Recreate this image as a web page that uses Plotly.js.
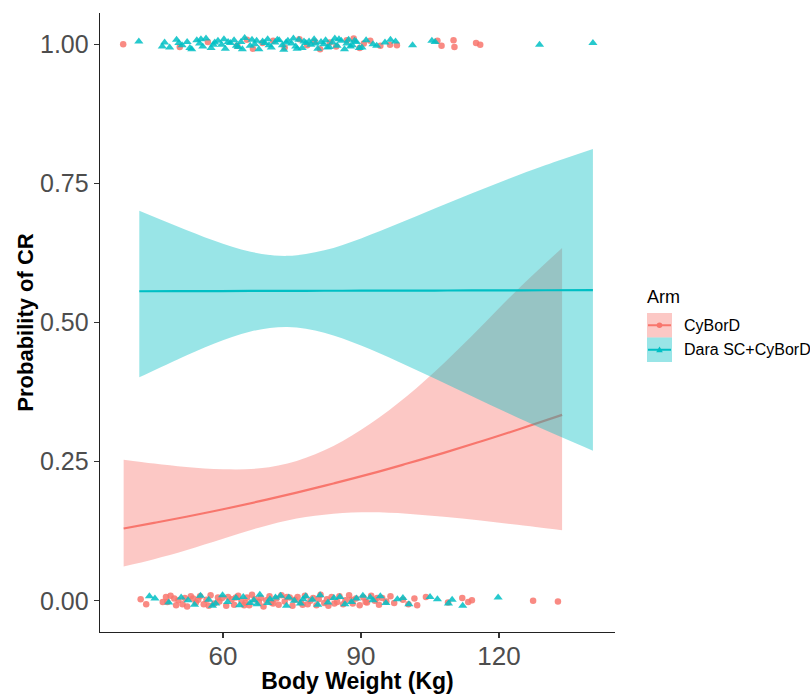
<!DOCTYPE html>
<html>
<head>
<meta charset="utf-8">
<script src="https://cdn.plot.ly/plotly-3.0.1.min.js"></script>
<style>
  html, body { margin: 0; padding: 0; background: #fff; }
  #chart { width: 810px; height: 694px; }
</style>
</head>
<body>
<div id="chart"></div>
<script>
// Logistic fits of complete response (CR) vs body weight, by treatment arm
const armNames = ['CyBorD', 'Dara SC+CyBorD'];

// Fitted probability and 95% band, CyBorD arm
const cyWeight = [38.4, 45, 52, 60, 68, 76, 84, 92, 100, 108, 116, 124, 133.7];
const cyFit    = [0.130, 0.140, 0.151, 0.1645, 0.179, 0.1943, 0.2108, 0.228, 0.2466, 0.2658, 0.2862, 0.3073, 0.334];
const cyUpper  = [0.2535, 0.2466, 0.2405, 0.2363, 0.2381, 0.2513, 0.278, 0.318, 0.368, 0.427, 0.492, 0.559, 0.634];
const cyLower  = [0.0618, 0.0748, 0.0908, 0.1114, 0.1318, 0.1478, 0.1565, 0.159, 0.1565, 0.151, 0.1445, 0.1365, 0.1268];

// Fitted probability and 95% band, Dara SC+CyBorD arm
const daWeight = [41.8, 50, 58, 66, 74, 82, 90, 98, 106, 114, 122, 130, 140.4];
const daFit    = [0.5561, 0.5563, 0.5565, 0.5567, 0.5568, 0.5570, 0.5571, 0.5573, 0.5574, 0.5576, 0.5577, 0.5579, 0.5581];
const daUpper  = [0.7006, 0.6728, 0.6472, 0.6271, 0.6197, 0.6296, 0.6511, 0.6773, 0.7047, 0.7319, 0.7579, 0.7825, 0.8119];
const daLower  = [0.4015, 0.4333, 0.4618, 0.4838, 0.4920, 0.4817, 0.4588, 0.4301, 0.3993, 0.3679, 0.3369, 0.3069, 0.2698];

// Patient-level outcomes (weight in kg), with vertical jitter in thousandths
const cyCRWeight = [38.3, 50.6, 56.7, 63.1, 65.2, 66.5, 68.6, 70.9, 73.4, 76.6, 78.3, 79.9, 81.1, 83.2, 84.6, 86.9, 88.4, 89.7, 90.6, 92.0, 94.2, 96.3, 97.8, 106.6, 107.5, 110.1, 110.3, 115.0, 115.9];
const cyCRJitter = [0, -5, 4, -3, 8, -8, 2, 6, -6, 9, -2, 5, -9, 3, -4, 7, 10, -7, 1, 6, -3, -1, -2, 6, -3, 7, -5, 2, -1];

const daCRWeight = [41.7, 46.8, 47.3, 48.4, 49.9, 50.4, 51.1, 52.2, 52.8, 53.2, 54.3, 54.9, 55.2, 55.6, 56.3, 57.4, 57.9, 58.2, 58.9, 59.7, 60.2, 60.5, 61.1, 61.6, 62.4, 62.9, 63.3, 63.9, 64.2, 64.7, 65.9, 66.3, 66.9, 67.3, 67.8, 68.6, 69.1, 69.7, 70.0, 70.5, 71.3, 71.8, 72.2, 72.9, 73.2, 73.7, 74.1, 74.9, 75.3, 75.8, 76.1, 76.5, 77.2, 77.6, 78.0, 78.7, 79.1, 79.8, 80.1, 80.6, 81.3, 81.9, 82.3, 82.7, 83.1, 83.8, 84.3, 84.8, 85.2, 85.7, 86.4, 86.9, 87.3, 87.7, 88.1, 88.6, 89.0, 89.6, 90.2, 91.1, 92.6, 93.4, 95.2, 96.4, 97.5, 101.2, 105.4, 106.1, 128.8, 140.4];
const daCRJitter = [5, -4, 3, -6, 8, 2, -2, 4, -7, -9, 7, 1, 9, -4, 10, -7, -1, 3, 6, -1, 9, -8, 4, 2, 7, -3, -5, 4, -9, 11, -3, 8, 0, 6, -9, 5, 2, 9, -2, -6, 3, 8, 7, -2, -10, 3, 6, 1, 10, -4, -8, 8, -7, 5, 2, 5, -1, 9, 1, -8, 4, 0, 7, -6, -5, 3, 10, -3, 9, 6, -9, 1, 8, -4, -2, 6, 4, -7, -6, 7, 0, -3, 3, 8, 5, -2, 6, 4, -1, 2];

const cyNoCRWeight = [42.1, 43.3, 46.9, 47.6, 47.9, 48.6, 49.4, 49.8, 50.3, 51.2, 51.7, 52.2, 53.0, 53.5, 54.1, 54.6, 55.0, 55.8, 56.4, 56.9, 57.3, 58.1, 58.9, 59.2, 59.8, 60.7, 61.1, 61.9, 62.4, 62.8, 63.3, 64.0, 64.6, 64.9, 65.2, 65.7, 66.3, 66.9, 67.8, 68.2, 68.8, 69.4, 70.1, 70.5, 70.9, 71.6, 72.1, 72.7, 73.4, 73.9, 74.5, 75.1, 75.6, 76.2, 76.9, 77.3, 77.8, 78.4, 79.0, 79.6, 80.3, 80.8, 81.2, 82.0, 82.6, 82.9, 83.6, 84.2, 84.8, 85.3, 86.1, 86.6, 87.4, 87.9, 88.2, 88.9, 89.7, 90.5, 91.0, 91.3, 92.2, 93.0, 93.5, 93.9, 94.6, 95.5, 96.4, 97.2, 99.1, 100.3, 101.6, 102.2, 104.1, 108.9, 112.0, 113.3, 114.1, 127.4, 132.8];
const cyNoCRJitter = [3, -6, -2, 7, -2, 9, 4, -8, 1, -6, 5, -10, 8, 4, -3, 2, 8, -6, 2, -9, 10, -5, 6, -1, 5, -9, 7, 3, -7, 6, 9, 0, -8, -4, 6, -8, 11, 3, -2, 5, -10, 1, 8, -3, -5, 4, -7, 10, -1, 7, 6, -9, 2, 7, -3, -7, 9, -6, 0, 5, -8, 3, 11, -4, 3, -9, 7, -5, -2, 8, -6, 1, 10, 2, -5, 4, -8, 6, -2, -3, 9, 0, 5, -7, 5, -1, 8, -4, 2, -6, 4, -8, 7, -3, 5, -2, 1, 0, -1];

const daNoCRWeight = [44.0, 45.2, 48.2, 50.9, 52.4, 53.8, 55.1, 56.9, 57.7, 58.4, 59.9, 61.0, 62.8, 63.6, 64.4, 65.9, 66.7, 67.4, 68.0, 69.7, 70.2, 71.4, 72.5, 73.8, 74.3, 75.5, 76.8, 77.4, 78.0, 79.4, 80.6, 81.1, 82.8, 84.1, 85.4, 86.5, 87.9, 89.0, 90.4, 92.0, 92.6, 94.2, 95.4, 97.9, 99.1, 100.4, 105.0, 106.6, 109.0, 109.8, 112.1, 119.8];
const daNoCRJitter = [8, 4, -3, 6, 1, -7, 9, 2, -9, -5, 10, -2, 5, -8, 7, -4, 1, -6, 11, -4, 3, 6, 9, -9, 6, 0, -5, 3, 8, 2, -7, 10, -3, 5, 7, -6, -2, 4, 9, 6, 1, 8, -4, 3, 5, -6, 7, 3, -5, 2, -9, 6];

const xTicks = [60, 90, 120];
const yTicks = [0, 0.25, 0.5, 0.75, 1];
const yTickText = ['0.00', '0.25', '0.50', '0.75', '1.00'];

const RED = '#F8766D', TEAL = '#00BFC4';
const RED_FILL = 'rgba(248,118,109,0.4)', TEAL_FILL = 'rgba(0,191,196,0.4)';
const FONT = 'Liberation Sans, Arial, Helvetica, sans-serif';

function bandEdge(w, p, fill) {
  const t = { x: w, y: p, type: 'scatter', mode: 'lines',
              line: { width: 0, shape: 'spline', smoothing: 1 }, hoverinfo: 'skip', showlegend: false };
  if (fill) { t.fill = 'tonexty'; t.fillcolor = fill; }
  return t;
}
function fitLine(w, p, color) {
  return { x: w, y: p, type: 'scatter', mode: 'lines',
           line: { color: color, width: 2.2, shape: 'spline' }, showlegend: false };
}
function jittered(w, jit, outcome, color, symbol, size) {
  return { x: w, y: jit.map(j => outcome + j / 1000), type: 'scatter', mode: 'markers',
           marker: { color: color, symbol: symbol, size: size, opacity: 0.85, line: { width: 0 } },
           showlegend: false };
}

const traces = [
  jittered(cyCRWeight, cyCRJitter, 1, RED, 'circle', 6.5),
  jittered(daCRWeight, daCRJitter, 1, TEAL, 'triangle-up', 8),
  jittered(cyNoCRWeight, cyNoCRJitter, 0, RED, 'circle', 6.5),
  jittered(daNoCRWeight, daNoCRJitter, 0, TEAL, 'triangle-up', 8),
  bandEdge(cyWeight, cyLower),
  bandEdge(cyWeight, cyUpper, RED_FILL),
  fitLine(cyWeight, cyFit, RED),
  bandEdge(daWeight, daLower),
  bandEdge(daWeight, daUpper, TEAL_FILL),
  fitLine(daWeight, daFit, TEAL)
];

// Panel geometry in pixels, used to place the hand-built legend
const P = { l: 100, r: 615, t: 13, b: 632 };
const px = v => (v - P.l) / (P.r - P.l);
const py = v => (P.b - v) / (P.b - P.t);

const keyL = 647, keyR = 672, keyH = 24.5, keyTop = 313;
const shapes = [];
const annotations = [
  { text: 'Arm', x: px(645), y: py(297), xref: 'paper', yref: 'paper', xanchor: 'left', yanchor: 'middle',
    showarrow: false, font: { family: FONT, size: 18, color: '#000' } }
];
[[RED, RED_FILL, 'circle'], [TEAL, TEAL_FILL, 'triangle']].forEach((k, i) => {
  const top = keyTop + i * keyH, mid = top + keyH / 2, cx = (keyL + keyR) / 2;
  shapes.push({ type: 'rect', xref: 'paper', yref: 'paper', x0: px(keyL), x1: px(keyR), y0: py(top + keyH), y1: py(top),
                fillcolor: k[1], line: { width: 0 }, layer: 'above' });
  shapes.push({ type: 'line', xref: 'paper', yref: 'paper', x0: px(keyL + 1), x1: px(keyR - 1), y0: py(mid), y1: py(mid),
                line: { color: k[0], width: 2 }, layer: 'above' });
  if (k[2] === 'circle') {
    shapes.push({ type: 'circle', xref: 'paper', yref: 'paper', x0: px(cx - 2.8), x1: px(cx + 2.8), y0: py(mid + 2.8), y1: py(mid - 2.8),
                  fillcolor: k[0], line: { width: 0 }, layer: 'above' });
  } else {
    shapes.push({ type: 'path', xref: 'paper', yref: 'paper',
                  path: `M ${px(cx - 3.3)} ${py(mid + 2.6)} L ${px(cx + 3.3)} ${py(mid + 2.6)} L ${px(cx)} ${py(mid - 3.2)} Z`,
                  fillcolor: k[0], line: { width: 0 }, layer: 'above' });
  }
  annotations.push({ text: armNames[i], x: px(682), y: py(mid), xref: 'paper', yref: 'paper',
                     xanchor: 'left', yanchor: 'middle', showarrow: false,
                     font: { family: FONT, size: 16, color: '#000' } });
});

const layout = {
  width: 810, height: 694,
  margin: { l: P.l, r: 810 - P.r, t: P.t, b: 694 - P.b, pad: 0 },
  paper_bgcolor: '#fff', plot_bgcolor: '#fff',
  showlegend: false,
  font: { family: FONT },
  xaxis: {
    range: [33.26, 145.2], tickvals: xTicks, ticks: 'outside', ticklen: 5, tickwidth: 1.2, tickcolor: '#333',
    showline: true, linecolor: '#222', linewidth: 1.3, showgrid: false, zeroline: false,
    ticklabelstandoff: -5,
    tickfont: { family: FONT, size: 26, color: '#4D4D4D' },
    title: { text: '<b>Body Weight (Kg)</b>', font: { family: FONT, size: 23, color: '#000' }, standoff: 3 }
  },
  yaxis: {
    range: [-0.056, 1.056], tickvals: yTicks, ticktext: yTickText, ticks: 'outside', ticklen: 5, tickwidth: 1.2, tickcolor: '#333',
    showline: true, linecolor: '#222', linewidth: 1.3, showgrid: false, zeroline: false,
    tickfont: { family: FONT, size: 25, color: '#4D4D4D' },
    title: { text: '<b>Probability of CR</b>', font: { family: FONT, size: 22, color: '#000' }, standoff: 0 }
  },
  shapes: shapes,
  annotations: annotations
};

Plotly.newPlot('chart', traces, layout, { staticPlot: true, displayModeBar: false });
</script>
</body>
</html>
